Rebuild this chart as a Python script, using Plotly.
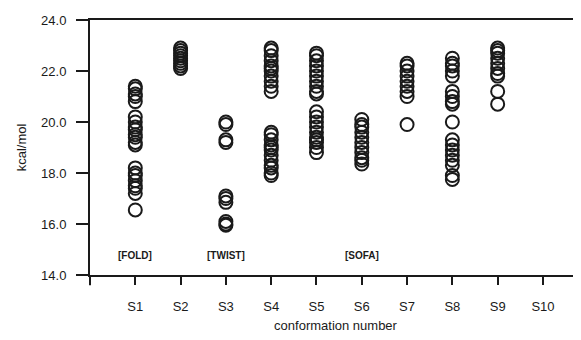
import plotly.graph_objects as go

categories = ["S1", "S2", "S3", "S4", "S5", "S6", "S7", "S8", "S9", "S10"]

s1_vals = [21.4, 21.3, 21.1, 21.0, 20.8, 20.2, 20.0, 19.8, 19.7, 19.5, 19.4, 19.2, 19.1,
           18.2, 18.0, 17.9, 17.7, 17.5, 17.4, 17.2, 16.55]
s2_vals = [22.9, 22.8, 22.7, 22.6, 22.5, 22.4, 22.3, 22.2, 22.1]
s3_vals = [20.0, 19.9, 19.3, 19.2, 17.1, 17.0, 16.85, 16.1, 16.0, 15.95]
s4_vals = [22.9, 22.8, 22.6, 22.4, 22.2, 22.1, 22.0, 21.8, 21.6, 21.4, 21.2,
           19.6, 19.5, 19.3, 19.1, 19.0, 18.9, 18.7, 18.5, 18.3, 18.2, 18.0, 17.9]
s5_vals = [22.7, 22.6, 22.4, 22.2, 22.0, 21.8, 21.6, 21.4, 21.2, 21.1,
           20.4, 20.2, 20.0, 19.8, 19.6, 19.4, 19.3, 19.2, 19.0, 18.8]
s6_vals = [20.1, 19.9, 19.8, 19.6, 19.4, 19.2, 19.0, 18.8, 18.6, 18.5, 18.35]
s7_vals = [22.3, 22.2, 22.0, 21.8, 21.6, 21.4, 21.2, 21.0, 19.9]
s8_vals = [22.5, 22.3, 22.2, 22.0, 21.8, 21.2, 21.0, 20.8, 20.7, 20.0,
           19.3, 19.1, 18.9, 18.7, 18.5, 18.3, 17.9, 17.75]
s9_vals = [22.9, 22.8, 22.7, 22.5, 22.3, 22.1, 21.9, 21.8, 21.2, 20.7]
s10_vals = []

series = [s1_vals, s2_vals, s3_vals, s4_vals, s5_vals, s6_vals, s7_vals, s8_vals, s9_vals, s10_vals]

y_ticks = [14.0, 16.0, 18.0, 20.0, 22.0, 24.0]
y_ticktext = ["14.0", "16.0", "18.0", "20.0", "22.0", "24.0"]

shape_labels = ["[FOLD]", "[TWIST]", "[SOFA]"]
shape_label_cats = [1, 3, 6]
shape_label_y = 14.75

xs, ys = [], []
for i, vals in enumerate(series):
    for v in vals:
        xs.append(i + 1)
        ys.append(v)

ink = "#1a1a1a"

fig = go.Figure()
fig.add_trace(go.Scatter(
    x=xs, y=ys, mode="markers",
    marker=dict(symbol="circle-open", size=13, color=ink, line=dict(width=2, color=ink)),
    showlegend=False, hoverinfo="skip",
))

for txt, cx in zip(shape_labels, shape_label_cats):
    fig.add_annotation(x=cx, y=shape_label_y, text="<b>" + txt + "</b>", showarrow=False,
                       font=dict(family="Liberation Sans, Arial", size=10, color=ink))

# small stub of the y axis below the x axis, as in the original
fig.add_shape(type="line", xref="paper", yref="paper", x0=0, x1=0, y0=0, y1=-0.04,
              line=dict(color=ink, width=2))

axis_font = dict(family="Liberation Sans, Arial", size=13, color=ink)

# page body has an 8px margin, so margins are offset to place the plot area correctly
fig.update_layout(
    width=581, height=340,
    margin=dict(l=82, r=8, t=12, b=73, autoexpand=False),
    paper_bgcolor="white", plot_bgcolor="white",
    font=axis_font,
    xaxis=dict(
        range=[0, 10.84], tickvals=list(range(1, len(categories) + 1)), ticktext=categories,
        ticks="outside", ticklen=8, tickwidth=2, tickcolor=ink,
        showline=True, linewidth=2, linecolor=ink, mirror=True,
        showgrid=False, zeroline=False, automargin=False,
        ticklabelstandoff=10,
        title=dict(text="conformation number", standoff=8, font=axis_font),
        tickfont=axis_font,
    ),
    yaxis=dict(
        range=[14, 24], tickvals=y_ticks, ticktext=y_ticktext,
        ticks="outside", ticklen=12, tickwidth=2, tickcolor=ink,
        showline=True, linewidth=2, linecolor=ink,
        showgrid=False, zeroline=False, automargin=False,
        ticklabelstandoff=7,
        title=dict(text="kcal/mol", standoff=12, font=axis_font),
        tickfont=axis_font,
    ),
)

fig.write_html("out.html")
